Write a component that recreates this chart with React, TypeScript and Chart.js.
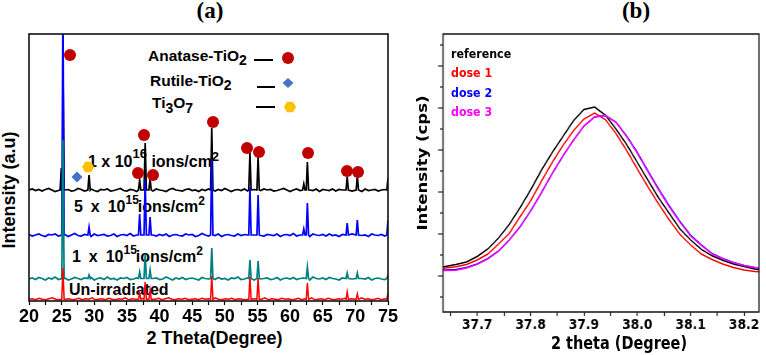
import React, { useEffect, useRef } from 'react';
import { Chart, registerables } from 'chart.js';
Chart.register(...registerables);

// ---------------- Panel (a): XRD patterns ----------------
const thetaMinA = 20;
const thetaMaxA = 75;
const tickValuesA = [20, 22.5, 25, 27.5, 30, 32.5, 35, 37.5, 40, 42.5, 45, 47.5, 50, 52.5, 55, 57.5, 60, 62.5, 65, 67.5, 70, 72.5, 75];

const peakPositions = [24.95, 25.2, 29.2, 36.95, 37.8, 38.55, 48.0, 53.85, 55.1, 62.1, 62.65, 68.75, 70.3, 75.0];
const blackTops = [133, 239, 126, 121, 158, 122, 173, 148, 144, 117, 139, 124, 125, 123];
const blueTops = [0, 300, 74, 87, 121, 84, 141, 114, 106, 72, 98, 78, 81, 81];
const tealTops = [0, 161, 26, 29, 47, 31, 53, 41, 40, 0, 34, 28, 28, 26];
const redTops = [0, 33, 0, 8, 19, 11, 25, 24, 23, 0, 18, 9, 7, 8];

const blackBase = 110.5;
const blueBase = 65.5;
const tealBase = 22;
const redBase = 1.2;

const blackNoise = [0.5, 1.5, 0, 1, -0.5, 1, 2, 0.5, -1, 0, 1.5, 0.5, 1, -0.5, 0, 2, 1, -0.5, 0.5, 1.5, 0, -1, 1, 0.5, 1.5, -0.5, 0, 1, 2, 0, -0.5, 1, 0.5, -1, 1.5, 0, 0.5, 1, -0.5, 1.5, 0.5, 0, -1, 1, 2, 0.5, 0, -0.5, 1, 1.5, 0, 0.5, -1, 1, 0, 1.5, 0.5, -0.5, 1, 0, 2, 0.5, -1, 0.5, 1, 0, 1.5, -0.5, 0.5, 1, -1, 0, 1.5, 0.5, 1, -0.5, 0, 1, 2, 0.5, -1, 0.5, 1.5, 0, 1, -0.5, 0.5, 0, 1.5, -1, 1, 0.5, 0, 1.5, -0.5, 1, 0.5, 2, 0, -0.5, 1, 0.5, -1, 1.5, 0, 0.5, 1, -0.5, 0.5, 1, 0];
const blueNoise = [1, -0.5, 0.5, 1.5, 0, -1, 1, 0.5, 1.5, -0.5, 0, 1, -1, 0.5, 2, 0, -0.5, 1, 0.5, -1, 1.5, 0, 0.5, 1, -0.5, 0, 1.5, -1, 0.5, 1, 0, 2, -0.5, 0.5, 1, -1, 0, 1.5, 0.5, -0.5, 1, 0, 1.5, -1, 0.5, 1, 0, -0.5, 1.5, 0.5, 1, -1, 0, 2, 0.5, -0.5, 1, 0, 1.5, -1, 0.5, 1, 0, -0.5, 1.5, 0, 1, 0.5, -1, 0.5, 1.5, 0, -0.5, 1, 0.5, 0, 1.5, -1, 0.5, 1, 0, 2, -0.5, 0.5, 1, 0, -1, 1.5, 0.5, 0, 1, -0.5, 1.5, 0, 0.5, -1, 1, 0.5, 0, 1.5, -0.5, 1, 0, 0.5, -1, 1.5, 0.5, 0, 1, -0.5, 0.5];
const tealNoise = [0, 1, -0.5, 1.5, 0.5, -1, 1, 0, 2, -0.5, 0.5, 1, -1, 0, 1.5, 0.5, -0.5, 1, 0, 1.5, -1, 0.5, 1, -0.5, 2, 0, 0.5, -1, 1, 0.5, 1.5, -0.5, 0, 1, 0.5, -1, 1.5, 0, 0.5, 1, -0.5, 0, 2, 0.5, -1, 1, 0, 1.5, -0.5, 0.5, 1, 0, -1, 1.5, 0.5, 0, 1, -0.5, 1.5, 0, 0.5, -1, 1, 0.5, 2, -0.5, 0, 1, 0.5, -1, 1.5, 0, 0.5, 1, -0.5, 0, 1.5, -1, 0.5, 1, 0, 1.5, -0.5, 0.5, 1, 0, -1, 2, 0.5, 0, 1, -0.5, 1.5, 0.5, 0, -1, 1, 0.5, 1.5, 0, -0.5, 1, 0.5, 0, 1.5, -1, 0.5, 1, 0, -0.5, 1];
const redNoise = [0.5, 1, 0, 1.5, 0.5, 0, 1, 2, 0.5, 0, 1.5, 0.5, 1, 0, 0.5, 1.5, 0, 1, 0.5, 2, 0, 0.5, 1, 0, 1.5, 0.5, 0, 1, 0.5, 2, 0, 1, 0.5, 0, 1.5, 0.5, 1, 0, 0.5, 1.5, 0, 1, 2, 0.5, 0, 1, 0.5, 1.5, 0, 0.5, 1, 0, 1.5, 0.5, 1, 0, 2, 0.5, 0, 1, 0.5, 1.5, 0, 1, 0.5, 0, 1.5, 0.5, 1, 0, 0.5, 2, 0, 1, 0.5, 0, 1.5, 0.5, 1, 0, 0.5, 1.5, 0, 1, 0.5, 2, 0, 0.5, 1, 0, 1.5, 0.5, 0, 1, 0.5, 1.5, 0, 1, 0.5, 0, 2, 0.5, 1, 0, 0.5, 1.5, 0, 1, 0.5];

const anataseTheta = [26.28, 36.7, 37.62, 39.0, 48.19, 53.4, 55.24, 62.75, 68.72, 70.41];
const anataseY = [246, 128, 166, 126, 179, 153, 149, 148, 130, 129];
const rutileTheta = [27.35];
const rutileY = [124];
const ti3o7Theta = [29.05];
const ti3o7Y = [134];

// ---------------- Panel (b): peak detail ----------------
const thetaB = [37.63, 37.64, 37.66, 37.68, 37.7, 37.72, 37.74, 37.76, 37.78, 37.8, 37.82, 37.84, 37.86, 37.88, 37.9, 37.92, 37.94, 37.96, 37.98, 38.0, 38.02, 38.04, 38.06, 38.08, 38.1, 38.12, 38.14, 38.16, 38.18, 38.2, 38.22, 38.23];
const referenceB = [1215, 1224, 1274, 1333, 1464, 1643, 1905, 2226, 2619, 3048, 3512, 3929, 4310, 4690, 4964, 5024, 4833, 4500, 4131, 3705, 3281, 2857, 2488, 2119, 1857, 1636, 1481, 1374, 1286, 1226, 1167, 1143];
const dose1B = [1190, 1190, 1219, 1274, 1381, 1524, 1762, 2012, 2405, 2786, 3250, 3690, 4095, 4452, 4738, 4881, 4726, 4393, 3988, 3548, 3119, 2714, 2333, 1988, 1738, 1524, 1393, 1286, 1202, 1143, 1107, 1100];
const dose2B = [1143, 1143, 1155, 1202, 1286, 1417, 1595, 1857, 2167, 2548, 2976, 3429, 3845, 4226, 4571, 4786, 4821, 4667, 4333, 3940, 3500, 3071, 2667, 2298, 1969, 1743, 1536, 1417, 1321, 1250, 1202, 1183];
const dose3B = [1130, 1130, 1135, 1190, 1276, 1410, 1590, 1850, 2160, 2545, 2970, 3425, 3842, 4224, 4570, 4790, 4826, 4660, 4318, 3920, 3478, 3048, 2645, 2278, 1950, 1728, 1525, 1410, 1318, 1250, 1205, 1190];
const xTicksB = [37.65, 37.7, 37.75, 37.8, 37.85, 37.9, 37.95, 38.0, 38.05, 38.1, 38.15, 38.2];
const yTicksB = [500, 1000, 1500, 2000, 2500, 3000, 3500, 4000, 4500, 5000, 5500, 6000, 6500];

const SQ = 0.8512; // horizontal squeeze of panel (b)
const WB = 430;

const SANS = '"Liberation Sans", Arial, sans-serif';
const DEJA = '"DejaVu Sans", Verdana, sans-serif';
const SERIF = '"Liberation Serif", "Times New Roman", serif';

function buildPattern(base: number, noise: number[], tops: number[]) {
  const pts: { x: number; y: number }[] = [];
  const step = (thetaMaxA - thetaMinA) / (noise.length - 1);
  const active = peakPositions.filter((_, j) => tops[j] > base);
  noise.forEach((n, i) => {
    const x = thetaMinA + i * step;
    if (active.some((p) => Math.abs(x - p) < 0.3)) return;
    pts.push({ x, y: base + n });
  });
  peakPositions.forEach((p, j) => {
    if (tops[j] <= base) return;
    pts.push({ x: p - 0.18, y: base + 0.5 }, { x: p, y: tops[j] }, { x: p + 0.18, y: base + 0.5 });
  });
  pts.sort((a, b) => a.x - b.x);
  return pts;
}

const framePlugin = {
  id: 'frame',
  afterDatasetsDraw(chart: any, _args: any, opts: any) {
    const { ctx, chartArea } = chart;
    const { left, top, right, bottom } = chartArea;
    ctx.save();
    ctx.strokeStyle = opts.color || '#000';
    ctx.lineWidth = opts.width || 1.5;
    ctx.strokeRect(left, top, right - left, bottom - top);
    if (opts.yTicks) {
      const ys = chart.scales.y;
      ctx.lineWidth = 1.2;
      opts.yTicks.forEach((v: number) => {
        const py = ys.getPixelForValue(v);
        const len = v % 1000 === 0 ? opts.major : opts.minor;
        ctx.beginPath();
        ctx.moveTo(left - len, py);
        ctx.lineTo(left, py);
        ctx.stroke();
      });
    }
    ctx.restore();
  },
};

function makeHexagon(color: string, r: number) {
  const c = document.createElement('canvas');
  const s = Math.ceil(r * 2 + 2);
  c.width = s;
  c.height = s;
  const g = c.getContext('2d')!;
  g.fillStyle = color;
  g.beginPath();
  for (let k = 0; k < 6; k++) {
    const a = (Math.PI / 3) * k;
    const px = s / 2 + r * Math.cos(a);
    const py = s / 2 + r * Math.sin(a);
    if (k === 0) g.moveTo(px, py);
    else g.lineTo(px, py);
  }
  g.closePath();
  g.fill();
  return c;
}

function Txt(props: { x: number; base: number; size: number; family: string; color?: string; center?: boolean; children: React.ReactNode; ws?: number }) {
  const { x, base, size, family, color = '#000', center = false, children, ws = 0 } = props;
  const top = base - 0.846 * size;
  return (
    <div
      style={{
        position: 'absolute',
        left: center ? x - 300 : x,
        top,
        width: center ? 600 : undefined,
        textAlign: center ? 'center' : 'left',
        fontFamily: family,
        fontWeight: 'bold',
        fontSize: size,
        lineHeight: `${size}px`,
        color,
        whiteSpace: 'pre',
        wordSpacing: ws,
      }}
    >
      {children}
    </div>
  );
}

function Sup(props: { children: React.ReactNode; size: number; dy: number; mr?: number }) {
  return (
    <span style={{ position: 'relative', top: props.dy, fontSize: props.size, marginRight: props.mr || 0 }}>{props.children}</span>
  );
}

function Rot(props: { cx: number; cy: number; size: number; family: string; children: React.ReactNode }) {
  return (
    <div
      style={{
        position: 'absolute',
        left: props.cx,
        top: props.cy,
        transform: 'translate(-50%, -50%) rotate(-90deg)',
        fontFamily: props.family,
        fontWeight: 'bold',
        fontSize: props.size,
        lineHeight: `${props.size}px`,
        whiteSpace: 'nowrap',
        color: '#000',
      }}
    >
      {props.children}
    </div>
  );
}

export default function App() {
  const refA = useRef<HTMLCanvasElement>(null);
  const refB = useRef<HTMLCanvasElement>(null);

  useEffect(() => {
    const hex = makeHexagon('#ffc000', 6);
    const lineDs = (label: string, data: any, color: string, w: number) => ({
      label,
      data,
      borderColor: color,
      backgroundColor: color,
      borderWidth: w,
      pointRadius: 0,
      tension: 0,
      fill: false,
    });
    const chartA = new Chart(refA.current!, {
      type: 'line',
      data: {
        datasets: [
          {
            label: 'Anatase-TiO2',
            data: anataseTheta.map((x, i) => ({ x, y: anataseY[i] })),
            showLine: false,
            pointStyle: 'circle',
            pointRadius: 6,
            pointBackgroundColor: '#c00000',
            pointBorderWidth: 0,
          } as any,
          {
            label: 'Rutile-TiO2',
            data: rutileTheta.map((x, i) => ({ x, y: rutileY[i] })),
            showLine: false,
            pointStyle: 'rectRot',
            pointRadius: 5.5,
            pointBackgroundColor: '#4472c4',
            pointBorderWidth: 0,
          } as any,
          {
            label: 'Ti3O7',
            data: ti3o7Theta.map((x, i) => ({ x, y: ti3o7Y[i] })),
            showLine: false,
            pointStyle: hex,
            pointRadius: 6,
            pointBorderWidth: 0,
          } as any,
          lineDs('Un-irradiated', buildPattern(redBase, redNoise, redTops), '#ff0000', 1.5),
          lineDs('1 x 10^15', buildPattern(tealBase, tealNoise, tealTops), '#008080', 1.7),
          lineDs('5 x 10^15', buildPattern(blueBase, blueNoise, blueTops), '#0000ff', 1.7),
          lineDs('1 x 10^16', buildPattern(blackBase, blackNoise, blackTops), '#000000', 1.7),
        ],
      },
      options: {
        responsive: false,
        animation: false,
        events: [],
        layout: { padding: { top: 34, right: 12, left: 0, bottom: 0 } },
        plugins: { legend: { display: false }, tooltip: { enabled: false }, frame: { color: '#111', width: 1.6 } } as any,
        scales: {
          x: {
            type: 'linear',
            min: thetaMinA,
            max: thetaMaxA,
            afterBuildTicks: (s: any) => {
              s.ticks = tickValuesA.map((v) => ({ value: v }));
            },
            afterFit: (s: any) => {
              s.height = 54;
            },
            ticks: {
              autoSkip: false,
              maxRotation: 0,
              padding: 1,
              color: '#000',
              font: { family: SANS, size: 18, weight: 'bold' },
              callback: (v: any) => (Number(v) % 5 === 0 ? String(v) : ''),
            },
            grid: { display: true, drawOnChartArea: false, drawTicks: true, tickLength: 4, tickColor: '#000', tickWidth: 1.2 },
            border: { display: false },
          },
          y: {
            type: 'linear',
            min: 0,
            max: 267,
            afterFit: (s: any) => {
              s.width = 29;
            },
            ticks: { display: false },
            grid: { display: false },
            border: { display: false },
          },
        },
      } as any,
      plugins: [framePlugin],
    });

    const pts = (arr: number[]) => thetaB.map((x, i) => ({ x, y: arr[i] }));
    const chartB = new Chart(refB.current!, {
      type: 'line',
      data: {
        datasets: [
          lineDs('dose 3', pts(dose3B), '#ff00ff', 1.5),
          lineDs('dose 2', pts(dose2B), '#0000ff', 1.5),
          lineDs('dose 1', pts(dose1B), '#ff0000', 1.5),
          lineDs('reference', pts(referenceB), '#000000', 1.5),
        ],
      },
      options: {
        responsive: false,
        animation: false,
        events: [],
        layout: { padding: { top: 34, right: WB - 359 / SQ, left: 0, bottom: 0 } },
        plugins: {
          legend: { display: false },
          tooltip: { enabled: false },
          frame: { color: '#222', width: 1.6, yTicks: yTicksB, major: 5 / SQ, minor: 3 / SQ },
        } as any,
        scales: {
          x: {
            type: 'linear',
            min: 37.636,
            max: 38.228,
            afterBuildTicks: (s: any) => {
              s.ticks = xTicksB.map((v) => ({ value: v }));
            },
            afterFit: (s: any) => {
              s.height = 43;
            },
            ticks: {
              autoSkip: false,
              maxRotation: 0,
              padding: 1,
              color: '#000',
              font: { family: DEJA, size: 14.5, weight: 'bold' },
              callback: (v: any) => {
                const t = Math.round(Number(v) * 100);
                return t % 10 === 0 ? (t / 100).toFixed(1) : '';
              },
            },
            grid: { display: true, drawOnChartArea: false, drawTicks: true, tickLength: 4, tickColor: '#000', tickWidth: 1.2 },
            border: { display: false },
          },
          y: {
            type: 'linear',
            min: 143,
            max: 6762,
            afterFit: (s: any) => {
              s.width = 43 / SQ;
            },
            ticks: { display: false },
            grid: { display: false },
            border: { display: false },
          },
        },
      } as any,
      plugins: [framePlugin],
    });

    return () => {
      chartA.destroy();
      chartB.destroy();
    };
  }, []);

  const bx = (x: number) => (x - 400) / SQ;

  return (
    <div style={{ position: 'fixed', left: 0, top: 0, width: 766, height: 355, background: '#fff', overflow: 'hidden' }}>
      {/* Panel (a) texts (behind the canvas) */}
      <Txt x={210} base={18} size={23} family={SERIF} center>(a)</Txt>
      <Txt x={636} base={18} size={23} family={SERIF} center>(b)</Txt>
      <Rot cx={8.8} cy={190} size={18} family={SANS}>Intensity (a.u)</Rot>
      <Txt x={214.5} base={344} size={18} family={SANS} center>2 Theta(Degree)</Txt>

      <Txt x={148} base={61} size={15.5} family={SANS}>
        Anatase-TiO<Sup size={14} dy={4}>2</Sup>
      </Txt>
      <Txt x={150} base={86} size={15.5} family={SANS}>
        Rutile-TiO<Sup size={14} dy={4}>2</Sup>
      </Txt>
      <Txt x={152} base={108} size={15.5} family={SANS}>
        Ti<Sup size={14} dy={5}>3</Sup>O<Sup size={14} dy={5}>7</Sup>
      </Txt>
      <div style={{ position: 'absolute', left: 254, top: 59, width: 19, height: 2, background: '#000' }} />
      <div style={{ position: 'absolute', left: 257, top: 86, width: 18, height: 2, background: '#000' }} />
      <div style={{ position: 'absolute', left: 256, top: 106, width: 19, height: 2, background: '#000' }} />
      <svg style={{ position: 'absolute', left: 0, top: 0 }} width={400} height={355}>
        <circle cx={288} cy={58} r={6} fill="#c00000" />
        <polygon points="288,78 293.5,83 288,88 282.5,83" fill="#4472c4" />
        <polygon points="296,107 293,112.2 287,112.2 284,107 287,101.8 293,101.8" fill="#ffc000" />
      </svg>

      <Txt x={88} base={168} size={16} family={SANS}>
        1 x 10<Sup size={13} dy={-9}>16</Sup> ions/cm<Sup size={13} dy={-6}>2</Sup>
      </Txt>
      <Txt x={74} base={213} size={16} family={SANS} ws={3.5}>
        5 x 10<Sup size={12} dy={-8} mr={-9}>15</Sup> ions/cm<Sup size={12} dy={-7}>2</Sup>
      </Txt>
      <Txt x={72} base={263} size={16} family={SANS} ws={3.5}>
        1 x 10<Sup size={12} dy={-8} mr={-9}>15</Sup> ions/cm<Sup size={12} dy={-7}>2</Sup>
      </Txt>
      <Txt x={69} base={296} size={16} family={SANS}>Un-irradiated</Txt>

      <canvas ref={refA} width={400} height={355} style={{ position: 'absolute', left: 0, top: 0, width: 400, height: 355 }} />

      {/* Panel (b), squeezed horizontally */}
      <div style={{ position: 'absolute', left: 400, top: 0, width: WB, height: 355, transform: `scaleX(${SQ})`, transformOrigin: '0 0' }}>
        <Txt x={bx(451)} base={58} size={13} family={DEJA}>reference</Txt>
        <Txt x={bx(451)} base={77.3} size={13} family={DEJA} color="#ff0000">dose 1</Txt>
        <Txt x={bx(451)} base={96.7} size={13} family={DEJA} color="#0000ff">dose 2</Txt>
        <Txt x={bx(451)} base={116} size={13} family={DEJA} color="#ff00ff">dose 3</Txt>
        <Txt x={bx(619)} base={349} size={17} family={DEJA} center>2 theta (Degree)</Txt>
        <Rot cx={bx(422.8)} cy={163} size={16.5} family={DEJA}>Intensity (cps)</Rot>
        <canvas ref={refB} width={WB} height={355} style={{ position: 'absolute', left: 0, top: 0, width: WB, height: 355 }} />
      </div>
    </div>
  );
}
